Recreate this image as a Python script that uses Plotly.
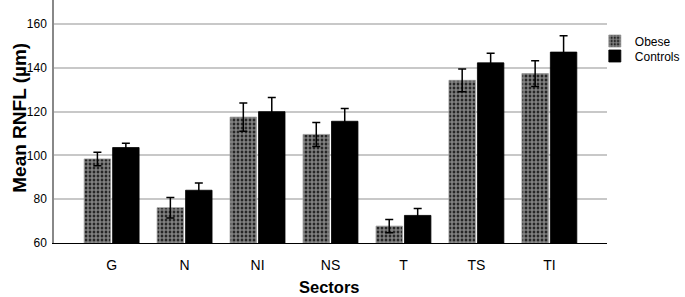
import plotly.graph_objects as go

sectors = ["G", "N", "NI", "NS", "T", "TS", "TI"]
obese_mean = [98.4, 76.1, 117.5, 109.6, 67.7, 134.3, 137.4]
obese_err = [3.1, 4.7, 6.5, 5.5, 3.0, 5.2, 5.9]
control_mean = [103.6, 84.1, 120.0, 115.6, 72.6, 142.3, 147.2]
control_err = [2.0, 3.3, 6.5, 5.8, 3.2, 4.4, 7.5]
y_ticks = [60, 80, 100, 120, 140, 160]

FONT = "Liberation Sans, Arial, sans-serif"

fig = go.Figure()
fig.add_trace(go.Bar(
    name="Obese", x=sectors, y=[v - 60 for v in obese_mean], base=60,
    marker=dict(color="black", line=dict(color="#999999", width=0.8),
                pattern=dict(shape=".", fgcolor="white", bgcolor="black", size=4, solidity=0.75)),
    error_y=dict(type="data", array=obese_err, color="black", thickness=1.5, width=4),
    legend="legend",
))
fig.add_trace(go.Bar(
    name="Controls", x=sectors, y=[v - 60 for v in control_mean], base=60,
    marker=dict(color="black", line=dict(color="black", width=0.8)),
    error_y=dict(type="data", array=control_err, color="black", thickness=1.5, width=4),
    legend="legend2",
))

leg_common = dict(xanchor="left", yanchor="middle", font=dict(size=12, family=FONT),
                  bgcolor="rgba(0,0,0,0)", itemwidth=30)
fig.update_layout(
    width=685, height=297,
    margin=dict(l=54, r=66, t=0, b=54),
    paper_bgcolor="white", plot_bgcolor="white",
    barmode="group", bargap=0.22, bargroupgap=0.07,
    font=dict(family=FONT, color="black"),
    legend=dict(x=0.978, y=1 - 41 / 243, **leg_common),
    legend2=dict(x=0.978, y=1 - 56 / 243, **leg_common),
    showlegend=True,
    annotations=[
        dict(text="<b>Mean RNFL (µm)</b>", textangle=-90, xref="paper", yref="paper",
             x=(18 - 54) / 565, y=1 - 118 / 243, xanchor="center", yanchor="middle",
             showarrow=False, font=dict(size=19, family=FONT)),
        dict(text="<b>Sectors</b>", xref="paper", yref="paper",
             x=(335 - 54) / 565, y=-(287 - 243) / 243, xanchor="center", yanchor="middle",
             showarrow=False, font=dict(size=16.5, family=FONT), borderpad=0),
    ],
)
fig.update_xaxes(
    range=[-0.79, 6.79], showline=True, linecolor="black", linewidth=1.2, automargin=False,
    showgrid=False, ticks="", tickfont=dict(size=14, family=FONT), ticklabelstandoff=9,
)
fig.update_yaxes(
    range=[60, 171], tickvals=y_ticks, showline=True, linecolor="#888888", linewidth=1.5,
    showgrid=True, gridcolor="#c8c8c8", gridwidth=1.5, zeroline=False, ticks="", automargin=False,
    tickfont=dict(size=12, family=FONT), ticklabelstandoff=3,
)
fig.write_html("out.html", config={"displayModeBar": False},
               post_script="document.body.style.margin='0';")
